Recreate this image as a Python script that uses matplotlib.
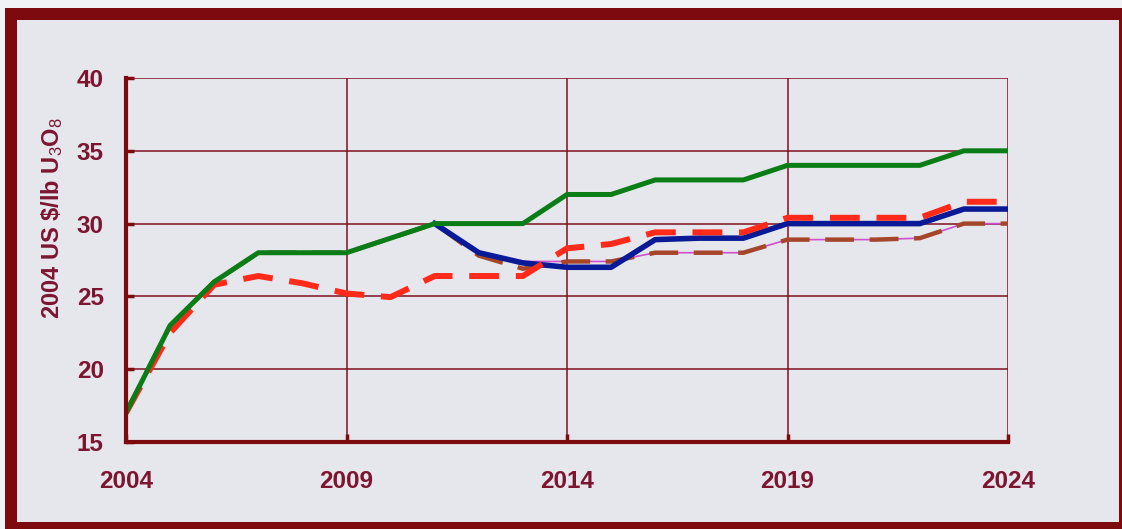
import matplotlib
matplotlib.use("Agg")
import matplotlib.pyplot as plt
from matplotlib.patches import Rectangle
import numpy as np

# data (2004 US $/lb U3O8)
years = list(range(2004, 2025))
green = [17, 23, 26, 28, 28, 28, 29, 30, 30, 30, 32, 32, 33, 33, 33, 34, 34, 34, 34, 35, 35]
red = [17, 22.5, 25.8, 26.4, 25.9, 25.2, 24.95, 26.4, 26.4, 26.4, 28.3, 28.6,
       29.4, 29.4, 29.4, 30.4, 30.4, 30.4, 30.4, 31.5, 31.5]
brown = [17, 23, 26, 28, 28, 28, 29, 30, 27.8, 26.9, 27.4, 27.4,
         28, 28, 28, 28.9, 28.9, 28.9, 29, 30, 30]
late_years = list(range(2011, 2025))
blue = [30, 28, 27.3, 27, 27, 28.9, 29, 29, 30, 30, 30, 30, 31, 31]
magenta = [30, 27.9, 27.4, 27.4, 27.4, 28, 28, 28, 28.9, 28.9, 28.9, 29, 30, 30]

x_ticks = [2004, 2009, 2014, 2019, 2024]
y_ticks = [15, 20, 25, 30, 35, 40]

W, H = 1122, 529
FRAME = '#7c0a0e'
TEXT = '#7d1530'
GRID = '#7e1020'
BG = '#e5e7ec'

plt.rcParams['font.family'] = ['Liberation Sans', 'DejaVu Sans']
plt.rcParams['mathtext.fontset'] = 'custom'
plt.rcParams['mathtext.rm'] = 'Liberation Sans'
plt.rcParams['mathtext.default'] = 'rm'

fig = plt.figure(figsize=(W / 100, H / 100), dpi=100)
fig.patch.set_facecolor('#f0f2f5')


def px_rect(x0, y0, x1, y1, color, z=0):
    # pixel box measured from the top-left corner
    r = Rectangle((x0 / W, 1 - y1 / H), (x1 - x0) / W, (y1 - y0) / H,
                  transform=fig.transFigure, facecolor=color, edgecolor='none', zorder=z)
    fig.add_artist(r)


# inner background and the dark red frame
px_rect(17, 20, 1119, 522, BG, z=-10)
px_rect(5, 8, 1122, 20, FRAME, z=5)
px_rect(5, 8, 17, 529, FRAME, z=5)
px_rect(5, 522, 1122, 529, FRAME, z=5)
px_rect(1119, 8, 1122, 529, FRAME, z=5)

ax = fig.add_axes([126 / W, 1 - 442 / H, (1008 - 126) / W, (442 - 78) / H])
ax.set_facecolor(BG)

ax.plot(late_years, magenta, color='#d050d0', lw=1.2, zorder=2)
ax.plot(years, brown, color='#a5452a', lw=3.2, dashes=(6.5, 3.5), zorder=3)
ax.plot(late_years, blue, color='#0a1a96', lw=4.0, zorder=4, solid_joinstyle='round')
ax.plot(years, red, color='#ff2a1a', lw=4.3, dashes=(5.0, 2.8), zorder=5)
ax.plot(years, green, color='#0b7d16', lw=3.6, zorder=6, solid_joinstyle='round')

ax.set_xlim(2004, 2024)
ax.set_ylim(15, 40)
ax.set_xticks(x_ticks)
ax.set_yticks(y_ticks)
ax.grid(True, color=GRID, lw=1.1)
ax.set_axisbelow(True)

for side in ['top', 'right']:
    ax.spines[side].set_visible(False)
for side in ['left', 'bottom']:
    ax.spines[side].set_color(FRAME)
    ax.spines[side].set_linewidth(3.0)
    ax.spines[side].set_zorder(7)

ax.tick_params(axis='x', direction='in', length=6, width=2.5, color=FRAME, pad=20,
               labelsize=17.5, labelcolor=TEXT)
ax.tick_params(axis='y', direction='in', length=6, width=2.5, color=FRAME, pad=16,
               labelsize=17.5, labelcolor=TEXT)
for lab in ax.get_xticklabels() + ax.get_yticklabels():
    lab.set_fontweight('bold')

fig.text(52 / W, 1 - 218 / H, r'2004 US \$/lb U$_3$O$_8$', rotation=90,
         ha='center', va='center', fontsize=17, fontweight='bold', color=TEXT)

fig.savefig('out.png', dpi=100, facecolor=fig.get_facecolor())
